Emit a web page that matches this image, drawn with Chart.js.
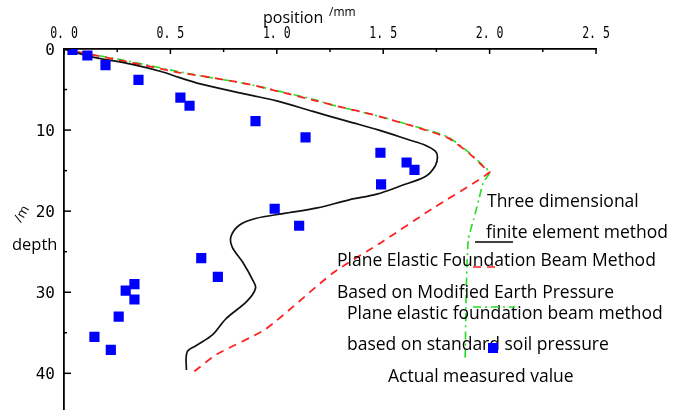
<!DOCTYPE html>
<html>
<head>
<meta charset="utf-8">
<script src="https://cdn.jsdelivr.net/npm/chart.js@4.4.1/dist/chart.umd.min.js"></script>
<style>
  body { margin: 0; background: #fff; }
  #wrap { width: 673px; height: 417px; position: relative; }
</style>
</head>
<body>
<div id="wrap"><canvas id="chart"></canvas></div>
<script>
// axes
const xTicks = [0, 0.5, 1.0, 1.5, 2.0, 2.5];
const xTickLabels = ['0. 0', '0. 5', '1. 0', '1. 5', '2. 0', '2. 5'];
const yTicks = [0, 10, 20, 30, 40];
const yTickLabels = ['0', '10', '20', '30', '40'];

// three dimensional finite element method
const femPos   = [0, 0.12, 0.32, 0.46, 0.54, 0.64, 0.86, 1.0, 1.17, 1.33, 1.48, 1.62, 1.70, 1.745, 1.755, 1.745, 1.70, 1.58, 1.47, 1.34, 1.19, 1.03, 0.90, 0.825, 0.785, 0.79, 0.84, 0.885, 0.9, 0.86, 0.76, 0.70, 0.62, 0.578, 0.575];
const femDepth = [0, 0.9, 1.9, 2.8, 3.5, 4.3, 5.6, 6.4, 7.7, 8.9, 10.0, 11.2, 11.9, 12.6, 13.3, 14.4, 15.7, 16.9, 17.9, 18.6, 19.6, 20.3, 20.9, 21.7, 23.1, 24.4, 26.3, 28.4, 29.5, 31.1, 33.3, 35.2, 36.6, 37.4, 39.6];

// plane elastic foundation beam, modified earth pressure
const modPos   = [0, 0.32, 0.54, 0.64, 0.86, 1.17, 1.26, 1.48, 1.80, 1.905, 1.97, 2.0, 1.73, 1.50, 1.26, 0.95, 0.715, 0.61];
const modDepth = [0, 1.7, 2.9, 3.3, 4.3, 6.3, 6.9, 8.3, 10.9, 12.9, 14.5, 15.2, 19.7, 23.7, 27.7, 34.5, 37.7, 39.8];

// plane elastic foundation beam, standard soil pressure
const stdPos   = [0, 0.32, 0.54, 0.64, 0.86, 1.17, 1.26, 1.48, 1.80, 1.905, 1.97, 2.0, 1.97, 1.95, 1.925, 1.9, 1.89, 1.885];
const stdDepth = [0, 1.6, 2.8, 3.3, 4.3, 6.2, 6.9, 8.3, 10.8, 12.8, 14.4, 15.2, 16.5, 18.5, 21.0, 23.5, 30.0, 38.5];

// actual measured value
const measPos   = [0.04, 0.11, 0.195, 0.35, 0.547, 0.59, 0.90, 1.135, 1.487, 1.61, 1.647, 1.49, 0.99, 1.105, 0.645, 0.723, 0.331, 0.29, 0.331, 0.257, 0.143, 0.22];
const measDepth = [0.1, 0.8, 2.0, 3.8, 6.0, 7.0, 8.9, 10.9, 12.8, 14.0, 14.9, 16.7, 19.7, 21.8, 25.8, 28.1, 29.0, 29.8, 30.9, 33.0, 35.5, 37.1];

const legendText = [
  'Three dimensional',
  'finite element method',
  'Plane Elastic Foundation Beam Method',
  'Based on Modified Earth Pressure',
  'Plane elastic foundation beam method',
  'based on standard soil pressure',
  'Actual measured value'
];

function pts(xs, ys) {
  return xs.map((x, i) => ({ x: x, y: ys[i] }));
}

// ticks pointing inward, labels, titles and the text legend
const decor = {
  id: 'decor',
  afterDraw(chart) {
    const ctx = chart.ctx;
    const xs = chart.scales.x, ys = chart.scales.y;
    const top = chart.chartArea.top, left = chart.chartArea.left;
    ctx.save();
    ctx.strokeStyle = '#000';
    ctx.lineWidth = 1.5;
    // x ticks
    for (let i = 0; i < xTicks.length; i++) {
      const px = xs.getPixelForValue(xTicks[i]);
      ctx.beginPath(); ctx.moveTo(px, top); ctx.lineTo(px, top + 5); ctx.stroke();
      if (i < xTicks.length - 1) {
        const pm = xs.getPixelForValue((xTicks[i] + xTicks[i + 1]) / 2);
        ctx.beginPath(); ctx.moveTo(pm, top); ctx.lineTo(pm, top + 3); ctx.stroke();
      }
    }
    // y ticks
    for (let i = 0; i < yTicks.length; i++) {
      const py = ys.getPixelForValue(yTicks[i]);
      ctx.beginPath(); ctx.moveTo(left, py); ctx.lineTo(left + 7, py); ctx.stroke();
      const pm = ys.getPixelForValue(yTicks[i] + 5);
      if (pm < chart.chartArea.bottom) {
        ctx.beginPath(); ctx.moveTo(left, pm); ctx.lineTo(left + 3, pm); ctx.stroke();
      }
    }
    // tick labels
    ctx.fillStyle = '#000';
    ctx.font = '16px "DejaVu Sans Mono"';
    ctx.textBaseline = 'middle';
    ctx.textAlign = 'center';
    xTickLabels.forEach((lab, i) => {
      ctx.save();
      ctx.translate(xs.getPixelForValue(xTicks[i]), 34);
      ctx.scale(0.72, 1);
      ctx.fillText(lab, 0, 0);
      ctx.restore();
    });
    ctx.textAlign = 'right';
    yTickLabels.forEach((lab, i) => {
      ctx.fillText(lab, 55, ys.getPixelForValue(yTicks[i]) + 2);
    });
    // axis titles
    ctx.font = '16px "Open Sans"';
    ctx.textAlign = 'left';
    ctx.fillText('position', 263, 18);
    ctx.font = '12px "Open Sans"';
    ctx.fillText('/mm', 329, 13);
    ctx.font = '16.5px "Open Sans"';
    ctx.fillText('depth', 12, 245);
    ctx.save();
    ctx.translate(22, 214);
    ctx.rotate(-Math.PI / 3);
    ctx.font = '13px "Open Sans"';
    ctx.textAlign = 'center';
    ctx.fillText('/m', 0, 0);
    ctx.restore();
    // legend text
    ctx.font = '17.5px "Open Sans"';
    const lx = [487, 486, 337, 337, 347, 347, 388];
    const ly = [202, 233, 261, 293, 314, 345, 377];
    legendText.forEach((t, i) => ctx.fillText(t, lx[i], ly[i]));
    // legend samples
    ctx.lineWidth = 1.6;
    ctx.strokeStyle = '#000';
    ctx.beginPath(); ctx.moveTo(475, 242); ctx.lineTo(513, 242); ctx.stroke();
    ctx.strokeStyle = '#ff2020';
    ctx.setLineDash([8, 6]);
    ctx.beginPath(); ctx.moveTo(473, 267); ctx.lineTo(499, 267); ctx.stroke();
    ctx.strokeStyle = '#22dd22';
    ctx.setLineDash([8, 4, 2, 4]);
    ctx.beginPath(); ctx.moveTo(473, 307); ctx.lineTo(515, 307); ctx.stroke();
    ctx.setLineDash([]);
    ctx.fillStyle = '#0000ff';
    ctx.fillRect(488, 343, 10, 10);
    ctx.restore();
  }
};

new Chart(document.getElementById('chart'), {
  type: 'scatter',
  data: {
    datasets: [
      {
        label: 'Actual measured value',
        data: pts(measPos, measDepth),
        pointStyle: 'rect',
        pointRadius: 7.2,
        backgroundColor: '#0000ff',
        borderColor: '#0000ff',
        borderWidth: 0,
        showLine: false
      },
      {
        label: 'Three dimensional finite element method',
        data: pts(femPos, femDepth),
        showLine: true,
        borderColor: '#111',
        borderWidth: 1.7,
        pointRadius: 0,
        tension: 0.35
      },
      {
        label: 'Plane Elastic Foundation Beam Method Based on Modified Earth Pressure',
        data: pts(modPos, modDepth),
        showLine: true,
        borderColor: '#ff2020',
        borderWidth: 1.8,
        borderDash: [8, 6],
        pointRadius: 0,
        tension: 0.2
      },
      {
        label: 'Plane elastic foundation beam method based on standard soil pressure',
        data: pts(stdPos, stdDepth),
        showLine: true,
        borderColor: '#22dd22',
        borderWidth: 1.6,
        borderDash: [8, 4, 2, 4],
        pointRadius: 0,
        tension: 0.2
      }
    ]
  },
  options: {
    responsive: true,
    maintainAspectRatio: false,
    animation: false,
    layout: { padding: { left: 0, top: 0, right: 77, bottom: 0 } },
    plugins: { legend: { display: false }, tooltip: { enabled: false } },
    scales: {
      x: {
        type: 'linear',
        position: 'top',
        min: 0,
        max: 2.5,
        grid: { display: false },
        border: { display: true, color: '#000', width: 1.8 },
        ticks: { display: false },
        afterFit: s => { s.height = 49; }
      },
      y: {
        type: 'linear',
        reverse: true,
        min: 0,
        max: 44.5,
        grid: { display: false },
        border: { display: true, color: '#000', width: 1.8 },
        ticks: { display: false },
        afterFit: s => { s.width = 64; }
      }
    }
  },
  plugins: [decor]
});
</script>
</body>
</html>
